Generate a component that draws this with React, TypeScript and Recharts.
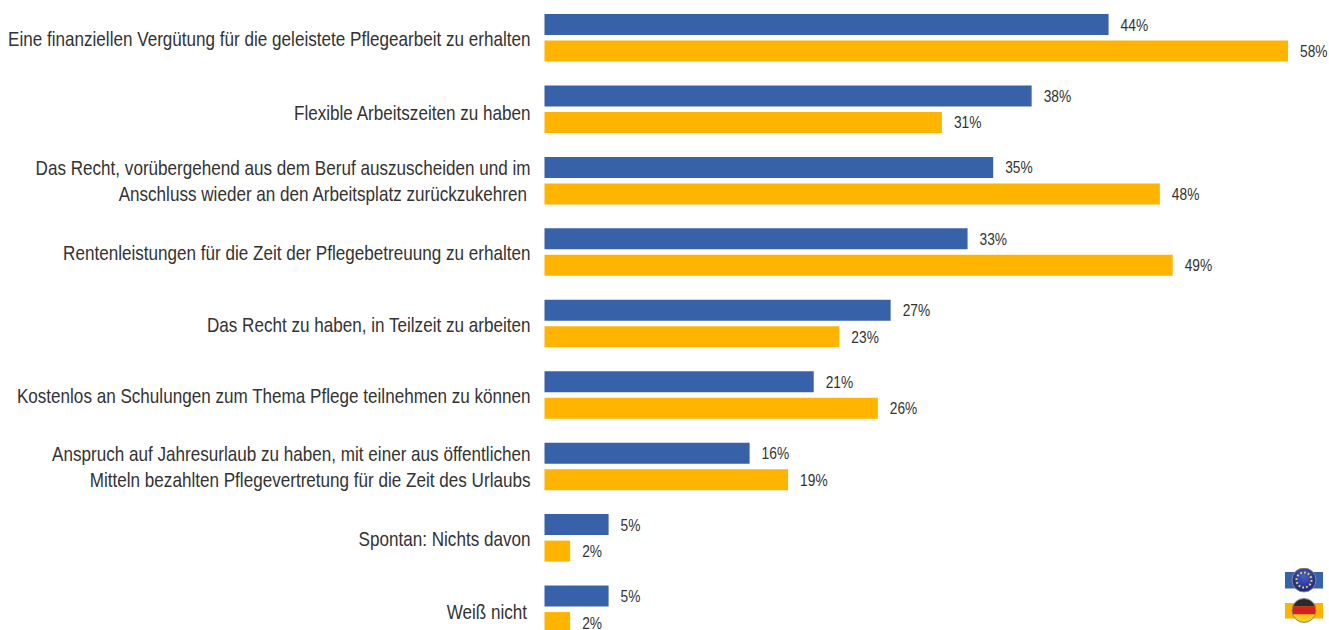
import React from "react";
import { BarChart, Bar, XAxis, YAxis, LabelList, Legend } from "recharts";

const categories = [
  "Eine finanziellen Vergütung für die geleistete Pflegearbeit zu erhalten",
  "Flexible Arbeitszeiten zu haben",
  "Das Recht, vorübergehend aus dem Beruf auszuscheiden und im\nAnschluss wieder an den Arbeitsplatz zurückzukehren\u2009",
  "Rentenleistungen für die Zeit der Pflegebetreuung zu erhalten",
  "Das Recht zu haben, in Teilzeit zu arbeiten",
  "Kostenlos an Schulungen zum Thema Pflege teilnehmen zu können",
  "Anspruch auf Jahresurlaub zu haben, mit einer aus öffentlichen\nMitteln bezahlten Pflegevertretung für die Zeit des Urlaubs",
  "Spontan: Nichts davon",
  "Weiß nicht\u2009",
];
const euValues = [44, 38, 35, 33, 27, 21, 16, 5, 5];
const deValues = [58, 31, 48, 49, 23, 26, 19, 2, 2];
const data = categories.map((name, i) => ({ name, eu: euValues[i], de: deValues[i] }));

const FONT = "'Liberation Sans', Arial, sans-serif";
const BLUE = "#3762AA";
const AMBER = "#FFB400";
const TEXT = "#333333";
const TEXT_SCALE = 0.855;

const CategoryTick = (props: any) => {
  const { x, y, payload } = props;
  const lines = String(payload.value).split("\n");
  const lh = 25.5;
  const start = -((lines.length - 1) * lh) / 2;
  const nudge = lines.length === 1 ? (payload.index === 1 ? 4 : payload.index === 8 ? 3.5 : 1.5) : 1;
  return (
    <g transform={`translate(${x},${y + nudge}) scale(${TEXT_SCALE},1)`}>
      {lines.map((l: string, i: number) => (
        <text key={i} x={0} y={start + i * lh} dy={6.5} textAnchor="end" fontFamily={FONT} fontSize={20} fill={TEXT}>
          {l}
        </text>
      ))}
    </g>
  );
};

const ValueLabel = (props: any) => {
  const { x, y, width, height, value } = props;
  return (
    <g transform={`translate(${x + width + 12},${y + height / 2}) scale(0.86,1)`}>
      <text x={0} y={0} dy={6} fontFamily={FONT} fontSize={16} fill={TEXT}>
        {value}%
      </text>
    </g>
  );
};

const Flags = () => (
  <svg width={44} height={62} style={{ display: "block" }}>
    <defs>
      <clipPath id="deClip"><circle cx={19} cy={42.5} r={12} /></clipPath>
      <radialGradient id="euBall" cx="50%" cy="35%" r="70%">
        <stop offset="0%" stopColor="#4a5fc8" />
        <stop offset="100%" stopColor="#141f78" />
      </radialGradient>
    </defs>
    <rect x={0} y={4} width={38} height={16.5} fill={BLUE} />
    <circle cx={19} cy={12} r={12} fill="url(#euBall)" stroke="#888" strokeWidth={1} />
    <circle cx={19} cy={12} r={7.5} fill="none" stroke="#E8D44A" strokeWidth={2} strokeDasharray="1.8 2.1" />
    <rect x={0} y={35} width={38} height={15.5} fill={AMBER} />
    <g clipPath="url(#deClip)">
      <rect x={7} y={30.5} width={24} height={8} fill="#2a2a2a" />
      <rect x={7} y={38.5} width={24} height={8} fill="#D81E1E" />
      <rect x={7} y={46.5} width={24} height={8} fill="#F7CE1E" />
    </g>
    <circle cx={19} cy={42.5} r={12} fill="none" stroke="#888" strokeWidth={1} />
  </svg>
);

export default function App() {
  return (
    <div style={{ position: "absolute", left: 0, top: 0, width: 1329, height: 630, overflow: "hidden", background: "#fff" }}>
      <BarChart
        width={1329}
        height={707}
        data={data}
        layout="vertical"
        margin={{ top: 2, right: 15.3, bottom: 0, left: 0 }}
        barSize={21}
        barGap={5.5}
      >
        <XAxis type="number" domain={[0, 60]} hide />
        <YAxis
          type="category"
          dataKey="name"
          width={544.5}
          axisLine={false}
          tickLine={false}
          tickMargin={0}
          tickSize={14}
          interval={0}
          tick={<CategoryTick />}
        />
        <Bar dataKey="eu" name="EU" fill={BLUE} isAnimationActive={false}>
          <LabelList dataKey="eu" content={<ValueLabel />} />
        </Bar>
        <Bar dataKey="de" name="DE" fill={AMBER} isAnimationActive={false}>
          <LabelList dataKey="de" content={<ValueLabel />} />
        </Bar>
        <Legend
          content={() => <Flags />}
          layout="vertical"
          wrapperStyle={{ position: "absolute", left: 1285, top: 568, width: 44 }}
        />
      </BarChart>
    </div>
  );
}
